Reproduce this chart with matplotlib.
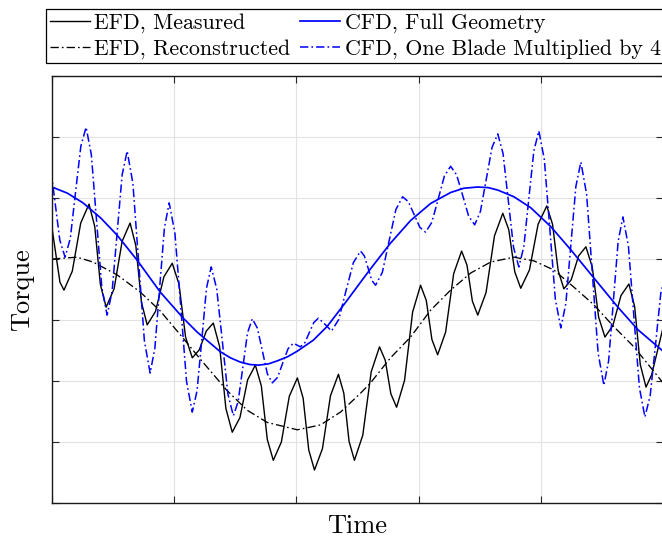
import matplotlib
matplotlib.use("Agg")
import matplotlib.pyplot as plt

plt.rcParams['font.family'] = 'cmr10'
plt.rcParams['mathtext.fontset'] = 'cm'
plt.rcParams['axes.formatter.use_mathtext'] = True
plt.rcParams['lines.scale_dashes'] = False

# ---- data (arbitrary units: time 0..5, torque 0..7) ----
efd_meas_t = [0, 0.065, 0.098, 0.166, 0.235, 0.303, 0.350, 0.396, 0.443, 0.508,
              0.574, 0.639, 0.686, 0.732, 0.779, 0.847, 0.916, 0.984, 1.039, 1.093,
              1.148, 1.205, 1.263, 1.320, 1.372, 1.423, 1.475, 1.538, 1.601, 1.664,
              1.713, 1.762, 1.811, 1.877, 1.942, 2.008, 2.055, 2.101, 2.148, 2.213,
              2.279, 2.344, 2.388, 2.431, 2.475, 2.543, 2.612, 2.680, 2.727, 2.773,
              2.820, 2.885, 2.951, 3.016, 3.063, 3.109, 3.156, 3.221, 3.287, 3.352,
              3.396, 3.440, 3.484, 3.552, 3.621, 3.689, 3.738, 3.787, 3.836, 3.907,
              3.978, 4.049, 4.096, 4.142, 4.189, 4.249, 4.309, 4.369, 4.421, 4.473,
              4.525, 4.590, 4.656, 4.721, 4.768, 4.814, 4.861, 4.907, 5.0]
efd_meas_v = [4.51, 3.62, 3.49, 3.80, 4.59, 4.90, 4.53, 3.58, 3.21, 3.51,
              4.29, 4.59, 4.22, 3.29, 2.92, 3.14, 3.71, 3.93, 3.59, 2.72,
              2.38, 2.51, 2.82, 2.95, 2.56, 1.55, 1.16, 1.40, 2.02, 2.26,
              1.92, 1.04, 0.70, 1.00, 1.75, 2.05, 1.72, 0.87, 0.54, 0.89,
              1.76, 2.11, 1.80, 1.01, 0.70, 1.11, 2.15, 2.56, 2.34, 1.79,
              1.57, 2.01, 3.13, 3.57, 3.32, 2.68, 2.43, 2.80, 3.76, 4.13,
              3.90, 3.31, 3.08, 3.45, 4.38, 4.75, 4.48, 3.79, 3.52, 3.82,
              4.57, 4.87, 4.57, 3.81, 3.51, 3.66, 4.05, 4.20, 3.87, 3.05,
              2.72, 2.91, 3.40, 3.59, 3.22, 2.27, 1.90, 2.10, 2.87]

efd_rec_t = [0, 0.205, 0.336, 0.533, 0.721, 0.885, 1.074, 1.213, 1.434, 1.598,
             1.762, 2.008, 2.197, 2.361, 2.525, 2.607, 2.770, 2.934, 3.098, 3.262,
             3.426, 3.590, 3.779, 3.943, 4.107, 4.270, 4.434, 4.598, 4.762, 5.0]
efd_rec_v = [4.00, 4.03, 3.95, 3.74, 3.46, 3.15, 2.70, 2.36, 1.84, 1.52,
             1.32, 1.20, 1.28, 1.49, 1.80, 1.97, 2.38, 2.72, 3.16, 3.49,
             3.77, 3.95, 4.03, 3.97, 3.82, 3.54, 3.25, 2.89, 2.56, 1.97]

cfd_full_t = [0, 0.125, 0.254, 0.400, 0.533, 0.697, 0.885, 1.074, 1.189, 1.295,
              1.377, 1.460, 1.541, 1.620, 1.689, 1.770, 1.844, 1.930, 2.008, 2.139,
              2.254, 2.418, 2.525, 2.607, 2.770, 2.934, 3.098, 3.262, 3.370, 3.484,
              3.570, 3.648, 3.780, 3.918, 4.082, 4.246, 4.434, 4.631, 4.795, 5.0]
cfd_full_v = [5.18, 5.08, 4.92, 4.67, 4.39, 3.98, 3.46, 3.03, 2.80, 2.62,
              2.48, 2.38, 2.31, 2.27, 2.26, 2.28, 2.33, 2.40, 2.49, 2.67,
              2.90, 3.33, 3.62, 3.84, 4.26, 4.63, 4.91, 5.09, 5.16, 5.18,
              5.17, 5.13, 5.02, 4.84, 4.53, 4.15, 3.69, 3.21, 2.84, 2.49]

cfd_blade_t = [-0.066, -0.023, 0.021, 0.064, 0.107, 0.150, 0.193, 0.236, 0.279, 0.322,
               0.365, 0.408, 0.451, 0.492, 0.533, 0.574, 0.615, 0.662, 0.709, 0.756,
               0.803, 0.842, 0.881, 0.920, 0.959, 1.006, 1.054, 1.101, 1.148, 1.187,
               1.226, 1.264, 1.303, 1.348, 1.394, 1.439, 1.484, 1.523, 1.562, 1.600,
               1.639, 1.680, 1.721, 1.762, 1.803, 1.846, 1.889, 1.932, 1.975, 2.004,
               2.033, 2.070, 2.107, 2.143, 2.180, 2.234, 2.287, 2.347, 2.406, 2.466,
               2.525, 2.556, 2.587, 2.617, 2.648, 2.703, 2.759, 2.814, 2.869, 2.916,
               2.963, 3.010, 3.057, 3.108, 3.160, 3.211, 3.262, 3.311, 3.361, 3.410,
               3.459, 3.506, 3.554, 3.601, 3.648, 3.691, 3.734, 3.777, 3.820, 3.861,
               3.902, 3.943, 3.984, 4.029, 4.074, 4.119, 4.164, 4.205, 4.246, 4.287,
               4.328, 4.375, 4.422, 4.469, 4.516, 4.555, 4.594, 4.633, 4.672, 4.717,
               4.762, 4.807, 4.852, 4.895, 4.939, 4.982, 5.025]
cfd_blade_v = [5.95, 5.67, 4.99, 4.31, 4.03, 4.34, 5.10, 5.85, 6.16, 5.71,
               4.62, 3.53, 3.08, 3.47, 4.43, 5.38, 5.77, 5.24, 3.95, 2.66,
               2.13, 2.54, 3.53, 4.51, 4.92, 4.42, 3.21, 1.99, 1.49, 1.84,
               2.68, 3.52, 3.87, 3.51, 2.65, 1.79, 1.43, 1.66, 2.23, 2.79,
               3.02, 2.87, 2.50, 2.12, 1.97, 2.06, 2.30, 2.53, 2.62, 2.59,
               2.56, 2.63, 2.80, 2.96, 3.03, 2.93, 2.82, 3.01, 3.48, 3.94,
               4.13, 4.05, 3.85, 3.65, 3.57, 3.78, 4.30, 4.81, 5.02, 4.94,
               4.73, 4.52, 4.44, 4.60, 4.98, 5.36, 5.52, 5.38, 5.04, 4.70,
               4.56, 4.78, 5.31, 5.83, 6.05, 5.73, 4.96, 4.19, 3.87, 4.20,
               4.99, 5.77, 6.10, 5.63, 4.49, 3.34, 2.87, 3.27, 4.23, 5.19,
               5.59, 5.06, 3.76, 2.46, 1.93, 2.33, 3.31, 4.29, 4.69, 4.21,
               3.05, 1.89, 1.41, 1.76, 2.60, 3.44, 3.79]

labels = ['EFD, Measured',
          'EFD, Reconstructed',
          'CFD, Full Geometry',
          'CFD, One Blade Multiplied by 4']

DASHDOT = (0, (6.0, 2.2, 1.2, 2.2))

fig = plt.figure(figsize=(6.62, 5.39), dpi=100)
ax = fig.add_axes([52 / 662, 36 / 539, 611 / 662, 427 / 539])

l1, = ax.plot(efd_meas_t, efd_meas_v, color='black', lw=1.0, label=labels[0])
l2, = ax.plot(efd_rec_t, efd_rec_v, color='black', lw=0.95, linestyle=DASHDOT, label=labels[1])
l3, = ax.plot(cfd_full_t, cfd_full_v, color='#0000ff', lw=1.25, label=labels[2])
l4, = ax.plot(cfd_blade_t, cfd_blade_v, color='#0000ff', lw=1.1, linestyle=DASHDOT, label=labels[3])

ax.set_xlim(0, 5)
ax.set_ylim(0, 7)
ax.set_xticks([0, 1, 2, 3, 4, 5])
ax.set_yticks([0, 1, 2, 3, 4, 5, 6, 7])
ax.tick_params(which='both', direction='in', length=5, width=0.8, color='#262626',
               top=True, right=True, labelbottom=False, labelleft=False)
ax.grid(True, color='#e2e2e2', lw=0.8)
ax.set_axisbelow(True)
for s in ax.spines.values():
    s.set_linewidth(1.0)
    s.set_color('#1a1a1a')

ax.set_xlabel('Time', fontsize=19, labelpad=8)
ax.set_ylabel('Torque', fontsize=19, labelpad=13)

leg = fig.legend(handles=[l1, l2, l3, l4], labels=labels, ncol=2,
                 loc='lower left', bbox_to_anchor=(46 / 662, (539 - 63) / 539),
                 bbox_transform=fig.transFigure, fontsize=15.8,
                 handlelength=1.82, handletextpad=0.2, columnspacing=0.46,
                 labelspacing=0.3, borderpad=0.18, borderaxespad=0,
                 fancybox=False, framealpha=1, edgecolor='black')
leg.get_frame().set_linewidth(0.9)

fig.savefig('out.png', dpi=100)
